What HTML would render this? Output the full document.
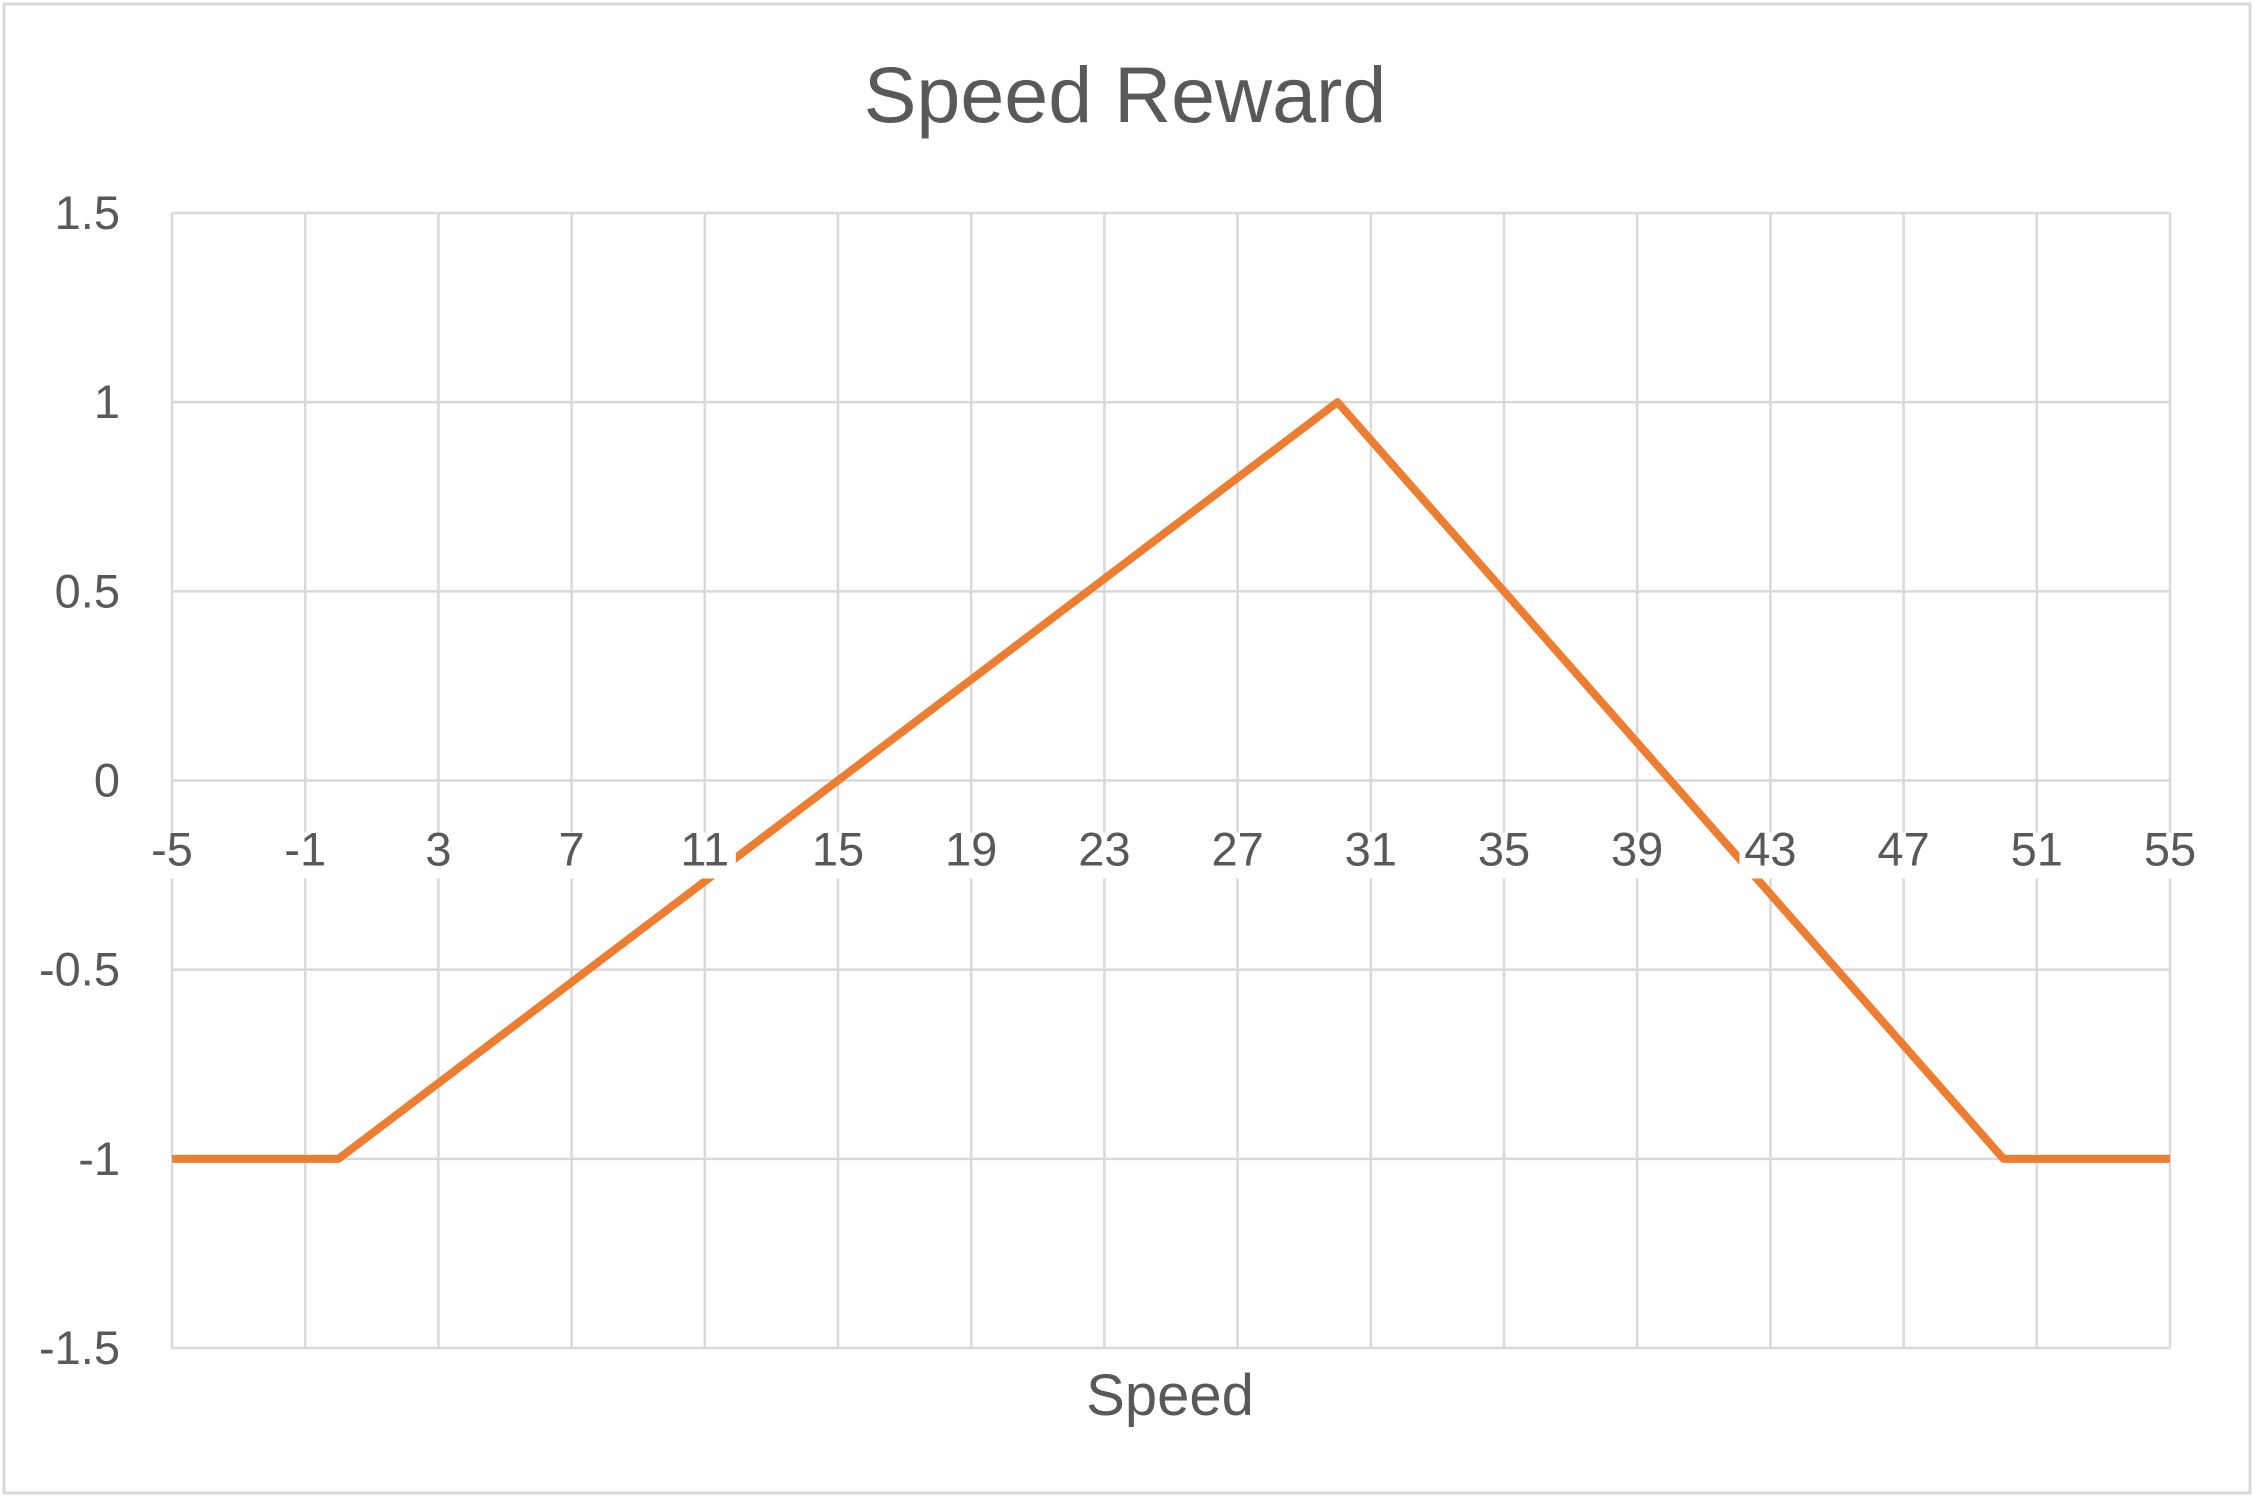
<!DOCTYPE html>
<html>
<head>
<meta charset="utf-8">
<style>
  html,body{margin:0;padding:0;background:#fff;}
  svg{display:block;}
  text{font-family:"Liberation Sans",sans-serif;fill:#595959;}
</style>
</head>
<body>
<svg id="chart" width="2255" height="1498" viewBox="0 0 2255 1498" xmlns="http://www.w3.org/2000/svg">
  <rect x="4" y="4" width="2246" height="1489" fill="#fff" stroke="#d9d9d9" stroke-width="3"/>
  <text x="1125" y="122" font-size="79" text-anchor="middle">Speed Reward</text>
  <g id="grid"></g>
  <g id="series"></g>
  <g id="xlabels"></g>
  <g id="ylabels"></g>
  <text x="1170" y="1415" font-size="58" text-anchor="middle">Speed</text>
</svg>
<script>
const speeds = [-5, 0, 30, 50, 55];
const rewards = [-1, -1, 1, -1, -1];
const xTicks = [-5, -1, 3, 7, 11, 15, 19, 23, 27, 31, 35, 39, 43, 47, 51, 55];
const yTicks = [-1.5, -1, -0.5, 0, 0.5, 1, 1.5];

const L = 172, R = 2170, T = 213, B = 1348;
const xMin = -5, xMax = 55, yMin = -1.5, yMax = 1.5;
const xs = v => L + (v - xMin) / (xMax - xMin) * (R - L);
const ys = v => B - (v - yMin) / (yMax - yMin) * (B - T);
const NS = 'http://www.w3.org/2000/svg';
function mk(tag, attrs, parent) {
  const e = document.createElementNS(NS, tag);
  for (const k in attrs) e.setAttribute(k, attrs[k]);
  parent.appendChild(e);
  return e;
}
const grid = document.getElementById('grid');
yTicks.forEach(v => {
  const l = mk('line', {x1: L, x2: R, y1: ys(v), y2: ys(v), stroke: '#d9d9d9', 'stroke-width': 2.5}, grid);
  
  
});
xTicks.forEach(v => {
  const l = mk('line', {x1: xs(v), x2: xs(v), y1: T, y2: B, stroke: '#d9d9d9', 'stroke-width': 2.5}, grid);
  
  
});
const series = document.getElementById('series');
const pts = speeds.map((s, i) => xs(s) + ',' + ys(rewards[i])).join(' ');
const pl = mk('polyline', {points: pts, fill: 'none', stroke: '#ED7D31', 'stroke-width': 8, 'stroke-linejoin': 'round'}, series);



const xl = document.getElementById('xlabels');
xTicks.forEach(v => {
  const w = String(v).length * 27 + 8;
  const r = mk('rect', {x: xs(v) - w / 2, y: ys(0) + 52, width: w, height: 46, fill: '#fff'}, xl);
  
  
  const t = mk('text', {x: xs(v), y: ys(0) + 85, 'font-size': 47, 'text-anchor': 'middle'}, xl);
  t.textContent = String(v);
  
  
});
const yl = document.getElementById('ylabels');
yTicks.forEach(v => {
  const t = mk('text', {x: 120, y: ys(v) + 16, 'font-size': 47, 'text-anchor': 'end'}, yl);
  t.textContent = String(v);
  
  
});
</script>
</body>
</html>
